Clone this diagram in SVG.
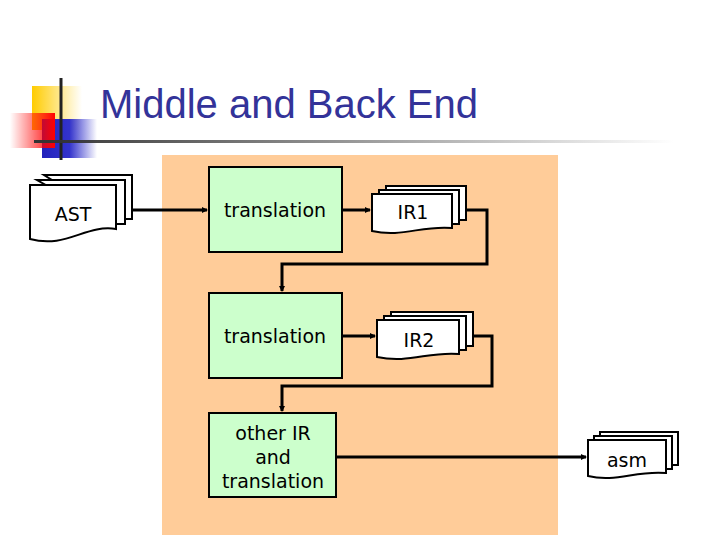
<svg xmlns="http://www.w3.org/2000/svg" width="720" height="540" viewBox="0 0 720 540">
<defs>
<style>
.doc{fill:#fff;stroke:#000;stroke-width:2}
.box{fill:#ccffcc;stroke:#000;stroke-width:2}
.t{font-family:"DejaVu Sans",Verdana,sans-serif;font-size:19px;fill:#000;text-anchor:middle}
.c{fill:none;stroke:#000;stroke-width:3}
</style>
<marker id="a" markerWidth="6" markerHeight="6" refX="5" refY="3" orient="auto" markerUnits="userSpaceOnUse"><path d="M0,0L6,3L0,6z" fill="#000"/></marker>
<linearGradient id="gy" x1="0" x2="1"><stop offset="0" stop-color="#ffcc00"/><stop offset="1" stop-color="#ffcc00" stop-opacity="0"/></linearGradient>
<linearGradient id="gb" x1="0" x2="1"><stop offset="0" stop-color="#2222bb"/><stop offset="0.5" stop-color="#3333cc"/><stop offset="1" stop-color="#3333cc" stop-opacity="0"/></linearGradient>
<linearGradient id="gr" x1="1" x2="0"><stop offset="0" stop-color="#ff0000"/><stop offset="1" stop-color="#ff0000" stop-opacity="0"/></linearGradient>
<linearGradient id="gl" x1="0" x2="1"><stop offset="0" stop-color="#333"/><stop offset="1" stop-color="#333" stop-opacity="0"/></linearGradient>
</defs>
<g id="title">
<rect x="32" y="86" width="50" height="44" fill="url(#gy)"/>
<rect x="42" y="119" width="55" height="39" fill="url(#gb)"/>
<rect x="10" y="113" width="45" height="35" fill="url(#gr)"/>
<line x1="61" y1="78" x2="61" y2="160" stroke="#222" stroke-width="3"/>
<rect x="34" y="140" width="640" height="3" fill="url(#gl)"/>
<text x="100" y="118" font-family="Liberation Sans,Arial,sans-serif" font-size="40" fill="#333399">Middle and Back End</text>
</g>
<rect id="panel" x="162" y="155" width="396" height="380" fill="#ffcc99"/>
<g id="AST">
<path class="doc" d="M44,175h88v44h-17z"/>
<path class="doc" d="M37,180h88v44h-10z"/>
<path class="doc" d="M30,185h86v44c-30,-5 -50,20 -86,10z"/>
<text class="t" x="73" y="221">AST</text>
</g>
<g id="tr1"><rect class="box" x="209" y="167" width="133" height="85"/><text class="t" x="275" y="217">translation</text></g>
<g id="IR1">
<path class="doc" d="M386,186h80v34h-80z"/>
<path class="doc" d="M379,190h80v34h-80z"/>
<path class="doc" d="M372,194h80v34c-30,-3 -50,10 -80,3z"/>
<text class="t" x="413" y="219">IR1</text>
</g>
<g id="tr2"><rect class="box" x="209" y="293" width="133" height="85"/><text class="t" x="275" y="343">translation</text></g>
<g id="IR2">
<path class="doc" d="M391,312h82v34h-82z"/>
<path class="doc" d="M384,316h82v34h-82z"/>
<path class="doc" d="M377,320h82v34c-30,-3 -50,10 -82,3z"/>
<text class="t" x="419" y="347">IR2</text>
</g>
<g id="other"><rect class="box" x="209" y="413" width="127" height="84"/>
<text class="t" x="273" y="440">other IR</text><text class="t" x="273" y="464">and</text><text class="t" x="273" y="488">translation</text></g>
<g id="asm">
<path class="doc" d="M600,432h78v33h-78z"/>
<path class="doc" d="M594,436h78v33h-78z"/>
<path class="doc" d="M588,440h78v33c-30,-3 -50,10 -78,3z"/>
<text class="t" x="627" y="467">asm</text>
</g>
<g id="connectors">
<path class="c" d="M132,210H207" marker-end="url(#a)"/>
<path class="c" d="M342,210H370" marker-end="url(#a)"/>
<path class="c" d="M466,210H487V264H282V291" marker-end="url(#a)"/>
<path class="c" d="M342,336H375" marker-end="url(#a)"/>
<path class="c" d="M473,336H492V386H282V411" marker-end="url(#a)"/>
<path class="c" d="M336,457H586" marker-end="url(#a)"/>
</g>
</svg>
